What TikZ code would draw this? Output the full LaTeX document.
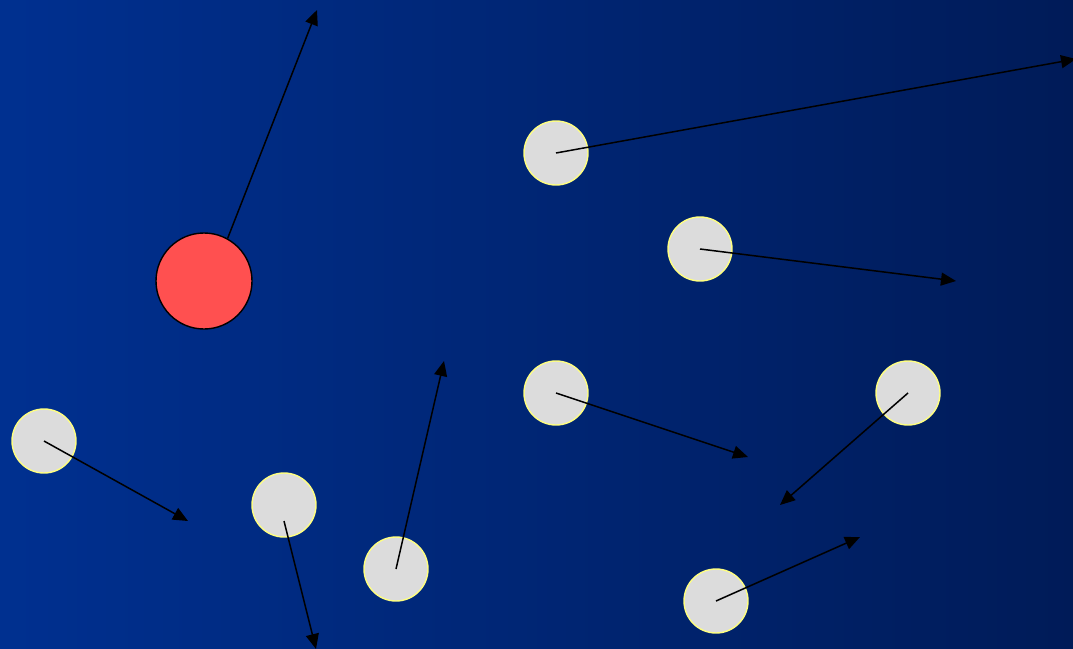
\documentclass[tikz,border=0pt]{standalone}
\usetikzlibrary{arrows.meta}
\definecolor{bgleft}{HTML}{003090}
\definecolor{bgright}{HTML}{001B58}
\definecolor{ballgray}{HTML}{DCDCDC}
\definecolor{ballrim}{HTML}{FFFF80}
\definecolor{redball}{HTML}{FF5050}
\begin{document}
\begin{tikzpicture}[x=1pt,y=-1pt,
  ball/.style={circle,fill=ballgray,draw=ballrim,line width=1.4pt,minimum size=64pt,inner sep=0pt},
  bigball/.style={circle,fill=redball,draw=black,line width=1.4pt,minimum size=96pt,inner sep=0pt},
  vec/.style={draw=black,line width=1.5pt,-{Triangle[length=15pt,width=13pt]}}]
\useasboundingbox (0,0) rectangle (1073,648);
\clip (0,0) rectangle (1073,648);
\shade[left color=bgleft,right color=bgright] (0,0) rectangle (1073,648);
% balls
\node[bigball] (r) at (204,281) {};
\node[ball] (g1) at (556,153) {};
\node[ball] (g2) at (700,249) {};
\node[ball] (g3) at (556,393) {};
\node[ball] (g4) at (908,393) {};
\node[ball] (g5) at (44,441) {};
\node[ball] (g6) at (284,505) {};
\node[ball] (g7) at (396,569) {};
\node[ball] (g8) at (716,601) {};
% tips
\coordinate (tr) at (317,10);
\coordinate (t1) at (1076,59);
\coordinate (t2) at (956,281);
\coordinate (t3) at (748,457);
\coordinate (t4) at (780,505);
\coordinate (t5) at (188,521);
\coordinate (s6) at (284,521);
\coordinate (t6) at (316,649);
\coordinate (t7) at (444,361);
\coordinate (t8) at (860,537);
% vectors
\draw[vec] (r.61) -- (tr);
\draw[vec] (g1.center) -- (t1);
\draw[vec] (g2.center) -- (t2);
\draw[vec] (g3.center) -- (t3);
\draw[vec] (g4.center) -- (t4);
\draw[vec] (g5.center) -- (t5);
\draw[vec] (s6) -- (t6);
\draw[vec] (g7.center) -- (t7);
\draw[vec] (g8.center) -- (t8);
\end{tikzpicture}
\end{document}
